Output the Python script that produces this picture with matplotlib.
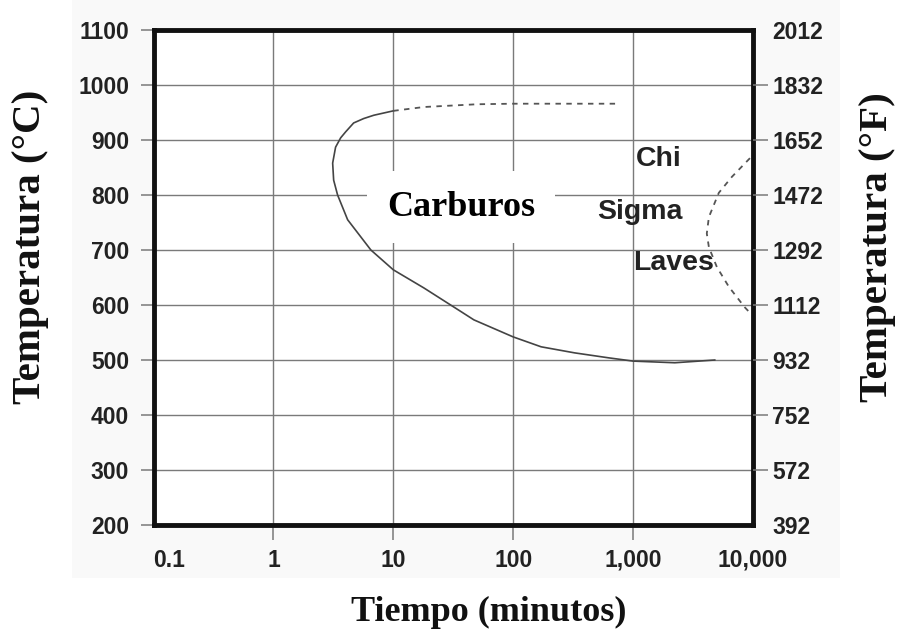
import numpy as np
import matplotlib
matplotlib.use("Agg")
import matplotlib.pyplot as plt
from matplotlib.patches import Rectangle

# tick values / labels
x_ticks = [0.1, 1, 10, 100, 1000, 10000]
x_labels = ["0.1", "1", "10", "100", "1,000", "10,000"]
c_ticks = [200, 300, 400, 500, 600, 700, 800, 900, 1000, 1100]
f_labels = ["392", "572", "752", "932", "1112", "1292", "1472", "1652", "1832", "2012"]

# carbide C-curve (minutes, degC)
carb_t = [10, 6.87, 5.66, 4.67, 4.01, 3.64, 3.30, 3.12, 3.18, 3.43, 4.16, 5.35, 6.5,
          10, 18, 36.7, 47, 100, 171, 325, 623, 1000, 2230, 4800]
carb_T = [953, 945, 939, 931, 915, 904, 887, 858, 827, 800, 755, 724, 700,
          664, 631, 588, 573, 542, 524, 513, 504, 498, 495, 500]

# dashed extension of the carbide nose
carb_ext_t = [10, 18, 50, 100, 300, 750]
carb_ext_T = [953, 960, 965, 966, 966, 966]

# dashed chi / sigma / laves boundary
inter_t = [9440, 6670, 5190, 4290, 4120, 4290, 5000, 6300, 8530, 9800]
inter_T = [867, 833, 804, 760, 730, 705, 669, 633, 596, 582]

serif = ["Liberation Serif", "DejaVu Serif"]
sans = ["Liberation Sans", "DejaVu Sans"]

fig = plt.figure(figsize=(9.01, 6.33), dpi=100)
fig.patches.append(Rectangle((72 / 901, 1 - 578 / 633), (840 - 72) / 901, 578 / 633,
                             transform=fig.transFigure, facecolor="#f9f9f9",
                             edgecolor="none", zorder=-10))

ax = fig.add_axes([0.1704, 0.1706, 0.6653, 0.782])
ax.set_xscale("log")
ax.set_xlim(0.1, 10000)
ax.set_ylim(200, 1100)

grid_c = "#7a7a7a"
ax.grid(True, which="major", color=grid_c, lw=1.0)
ax.minorticks_off()

tick_font = dict(family=sans, fontweight="bold", fontsize=16.5, color="#222")
ax.set_xticks(x_ticks)
ax.set_xticklabels(x_labels, **tick_font)
ax.set_yticks(c_ticks)
ax.set_yticklabels([str(v) for v in c_ticks], **tick_font)
ax.tick_params(axis="x", length=11, width=1.1, color=grid_c, pad=6)
ax.tick_params(axis="y", length=9.5, width=1.1, color=grid_c, pad=8)
ax.get_xticklabels()[0].set_ha("left")
for i in (0, -1):
    ax.xaxis.get_major_ticks()[i].tick1line.set_visible(False)
    ax.yaxis.get_major_ticks()[i].tick1line.set_visible(False)

for s in ax.spines.values():
    s.set_linewidth(3.5)
    s.set_color("#111")

ax2 = ax.twinx()
ax2.set_ylim(200, 1100)
ax2.set_yticks(c_ticks)
ax2.set_yticklabels(f_labels, **tick_font)
ax2.tick_params(axis="y", length=11, width=1.1, color=grid_c, pad=3)
for i in (0, -1):
    ax2.yaxis.get_major_ticks()[i].tick2line.set_visible(False)
for s in ax2.spines.values():
    s.set_visible(False)

# curves
ax.plot(carb_t, carb_T, color="#444", lw=1.2, zorder=3)
ax.plot(carb_ext_t, carb_ext_T, color="#555", lw=1.3, ls=(0, (3, 3)), zorder=3)
ax.plot(inter_t, inter_T, color="#555", lw=1.3, ls=(0, (3, 3)), zorder=3, clip_on=False)

# phase labels
ax.text(36.7, 778, "Carburos", family=serif, fontweight="bold", fontsize=26,
        ha="center", va="center", zorder=5,
        bbox=dict(boxstyle="square,pad=0.55", facecolor="white", edgecolor="none"))
ax.text(1634, 865, "Chi", family=sans, fontweight="bold", fontsize=20.5,
        ha="center", va="center", color="#222", zorder=5)
ax.text(1133, 769, "Sigma", family=sans, fontweight="bold", fontsize=20.5,
        ha="center", va="center", color="#222", zorder=5)
ax.text(2180, 676, "Laves", family=sans, fontweight="bold", fontsize=20.5,
        ha="center", va="center", color="#222", zorder=5)

# axis titles
fig.text(489 / 901, 1 - 612 / 633, "Tiempo (minutos)", family=serif, fontweight="bold",
         fontsize=26, ha="center", va="center", color="#111")
fig.text(31 / 901, 1 - 247 / 633, "Temperatura (°C)", family=serif, fontweight="bold",
         fontsize=29.5, ha="center", va="center", rotation=90, color="#111")
fig.text(877 / 901, 1 - 247 / 633, "Temperatura (°F)", family=serif, fontweight="bold",
         fontsize=29.5, ha="center", va="center", rotation=90, color="#111")

fig.savefig("out.png", dpi=100)
